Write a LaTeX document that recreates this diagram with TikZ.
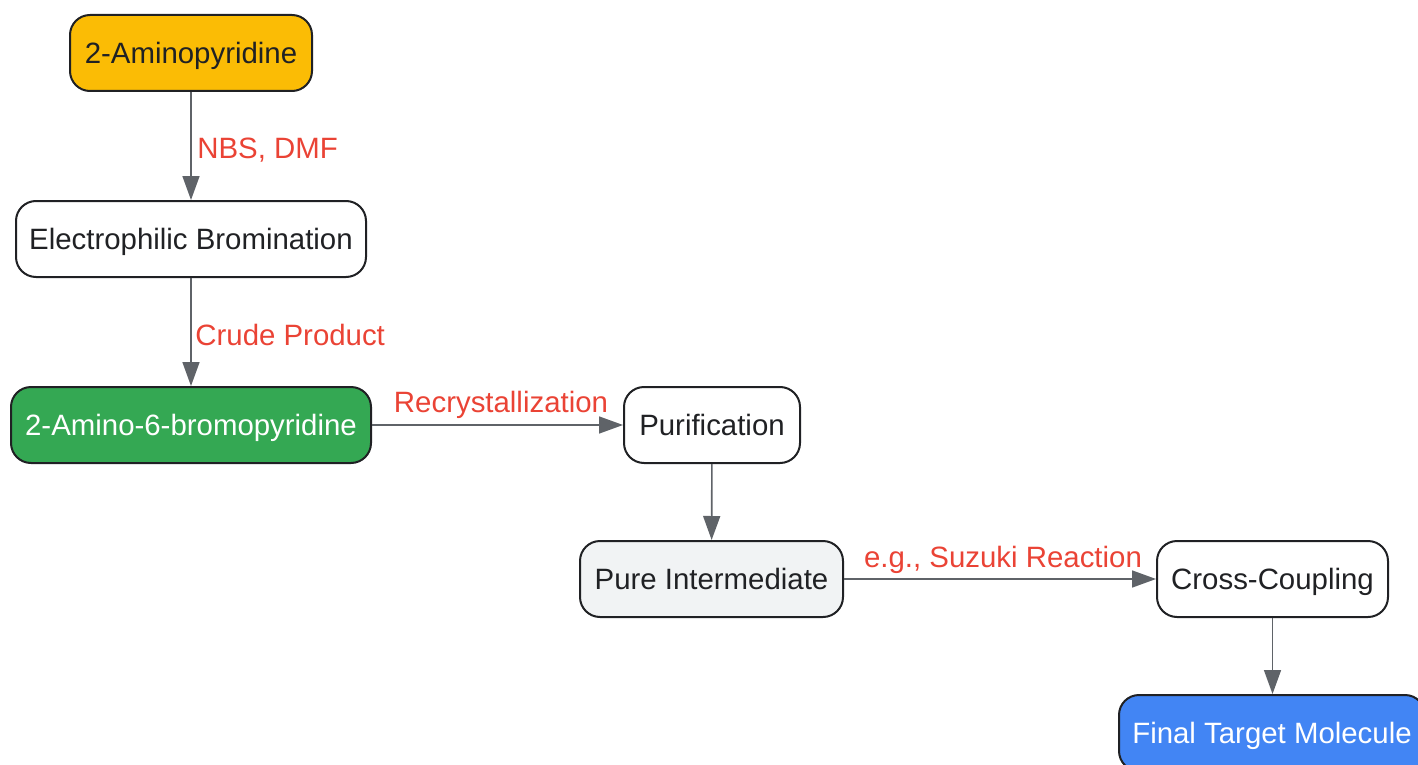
\documentclass[tikz,border=0pt]{standalone}
\usepackage{fontspec}
\setmainfont{Liberation Sans}
\usetikzlibrary{arrows.meta}
\definecolor{cyel}{HTML}{FBBC05}
\definecolor{cgrn}{HTML}{34A853}
\definecolor{cblu}{HTML}{4285F4}
\definecolor{cgry}{HTML}{F1F3F4}
\definecolor{ctxt}{HTML}{202124}
\definecolor{cedge}{HTML}{5F6368}
\definecolor{clab}{HTML}{EA4335}
\tikzset{
  box/.style={draw=ctxt, line width=1pt, rounded corners=10pt, minimum height=38pt,
    inner sep=0pt, text=ctxt, font=\fontsize{14.7}{17}\selectfont, fill=white,
    text height=13.5pt, text depth=3pt},
  conn/.style={draw=cedge, line width=0.8pt, -{Triangle[length=12pt,width=8.5pt]}},
  lab/.style={text=clab, font=\fontsize{14.7}{17}\selectfont, inner sep=0pt}
}
\begin{document}
\begin{tikzpicture}[x=0.5pt,y=-0.5pt]
\useasboundingbox (0,0) rectangle (1418,765);
\clip (0,0) rectangle (1418,765);
\node[box, fill=cyel, minimum width=121pt] (a) at (191,53) {2-Aminopyridine};
\node[box, minimum width=175pt] (b) at (191,239) {Electrophilic Bromination};
\node[box, fill=cgrn, text=white, minimum width=180pt] (c) at (191,425) {2-Amino-6-bromopyridine};
\node[box, minimum width=88pt] (d) at (712,425) {Purification};
\node[box, fill=cgry, minimum width=131.5pt] (e) at (711.5,579) {Pure Intermediate};
\node[box, minimum width=115.5pt] (f) at (1272.5,579) {Cross-Coupling};
\node[box, fill=cblu, text=white, minimum width=153pt] (g) at (1272,733) {Final Target Molecule};
\draw[conn] (a) -- (b);
\draw[conn] (b) -- (c);
\draw[conn] (c) -- (d);
\draw[conn] (d) -- (e);
\draw[conn] (e) -- (f);
\draw[conn] (f.south) -- (f.south |- g.north);
\node[lab, anchor=west] (l1) at (197,150) {NBS, DMF};
\node[lab, anchor=west] (l2) at (195,335) {Crude Product};
\node[lab] (l3) at (501,405) {Recrystallization};
\node[lab] (l4) at (1003,560) {e.g., Suzuki Reaction};
\end{tikzpicture}
\end{document}
